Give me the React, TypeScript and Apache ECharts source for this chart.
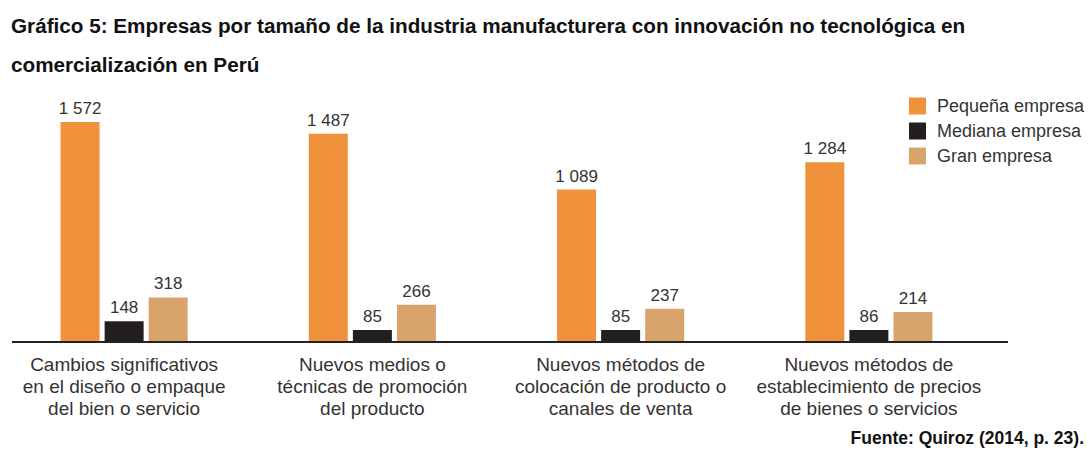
import React, { useEffect, useRef } from "react";
import * as echarts from "echarts";

const categories = [
  "Cambios significativos\nen el diseño o empaque\ndel bien o servicio",
  "Nuevos medios o\ntécnicas de promoción\ndel producto",
  "Nuevos métodos de\ncolocación de producto o\ncanales de venta",
  "Nuevos métodos de\nestablecimiento de precios\nde bienes o servicios",
];
const seriesNames = ["Pequeña empresa", "Mediana empresa", "Gran empresa"];
const pequena = [1572, 1487, 1089, 1284];
const mediana = [148, 85, 85, 86];
const gran = [318, 266, 237, 214];
const colors = ["#F0923B", "#231F20", "#D9A46C"];

const FONT = "Liberation Sans, Arial, Helvetica, sans-serif";

const fmt = (v: number) => String(v).replace(/\B(?=(\d{3})+(?!\d))/g, " ");

export default function App() {
  const ref = useRef<HTMLDivElement>(null);
  useEffect(() => {
    if (!ref.current) return;
    const chart = echarts.init(ref.current, undefined, { renderer: "svg" });
    const values = [pequena, mediana, gran];
    chart.setOption({
      animation: false,
      backgroundColor: "#ffffff",
      textStyle: { fontFamily: FONT },
      title: {
        text: "Gráfico 5: Empresas por tamaño de la industria manufacturera con innovación no tecnológica en\ncomercialización en Perú",
        left: 11,
        top: 6,
        padding: 0,
        textStyle: {
          fontFamily: FONT,
          fontSize: 20.7,
          fontWeight: "bold",
          color: "#111111",
          lineHeight: 39,
        },
      },
      legend: {
        orient: "vertical",
        left: 909,
        top: 97,
        itemWidth: 17,
        itemHeight: 17,
        itemGap: 7,
        padding: 0,
        icon: "rect",
        data: seriesNames,
        textStyle: {
          fontFamily: FONT,
          fontSize: 18,
          color: "#333333",
          padding: [0, 0, 0, 6],
        },
      },
      grid: { left: 0, right: 97, top: 104, bottom: 111, containLabel: false },
      xAxis: {
        type: "category",
        data: categories,
        axisLine: { show: false },
        axisTick: { show: false },
        axisLabel: {
          interval: 0,
          margin: 11,
          fontFamily: FONT,
          fontSize: 19,
          lineHeight: 22,
          color: "#333333",
          align: "center",
        },
      },
      yAxis: {
        type: "value",
        min: 0,
        max: 1700,
        show: false,
        splitLine: { show: false },
      },
      series: seriesNames.map((name, i) => ({
        name,
        type: "bar",
        data: values[i],
        barWidth: 39,
        barGap: "13%",
        itemStyle: { color: colors[i] },
        label: {
          show: true,
          position: "top",
          distance: 5,
          fontFamily: FONT,
          fontSize: 17,
          color: "#333333",
          formatter: (p: any) => fmt(p.value),
        },
      })),
      graphic: [
        {
          type: "line",
          shape: { x1: 12, y1: 342, x2: 1008, y2: 342 },
          style: { stroke: "#222222", lineWidth: 2 },
          z: 10,
        },
        {
          type: "text",
          right: 6,
          top: 429,
          style: {
            text: "Fuente: Quiroz (2014, p. 23).",
            font: `bold 17.5px ${FONT}`,
            fill: "#111111",
          },
        },
      ],
    });
    return () => chart.dispose();
  }, []);
  return (
    <div
      ref={ref}
      style={{ position: "fixed", left: 0, top: 0, width: 1090, height: 453 }}
    />
  );
}
